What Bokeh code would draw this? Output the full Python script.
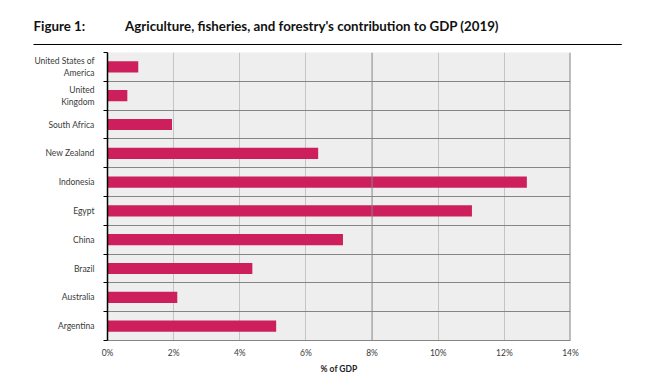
from bokeh.plotting import figure
from bokeh.models import FixedTicker, Span, Range1d, Title
from bokeh.embed import file_html
from bokeh.resources import INLINE

# ---- data (bottom to top) ----
countries = ["Argentina", "Australia", "Brazil", "China", "Egypt", "Indonesia",
             "New Zealand", "South Africa", "United\nKingdom", "United States of\nAmerica"]
gdp_share = [5.1, 2.11, 4.38, 7.12, 11.02, 12.68, 6.37, 1.95, 0.6, 0.93]
x_ticks = [0, 2, 4, 6, 8, 10, 12, 14]
fig_label = "Figure 1:"
title_text = "Agriculture, fisheries, and forestry's contribution to GDP (2019)"
x_title = "% of GDP"

FONT = "Lato"
BAR = "#cd1f5c"
W, H = 646, 388
BL, BR, BT, BB = 107, 76, 52, 48

n = len(countries)
centers = [i + 0.5 for i in range(n)]
p = figure(width=W, height=H, x_range=Range1d(0, 14), y_range=Range1d(0, n),
           toolbar_location=None, output_backend="svg",
           min_border_left=BL, min_border_right=BR, min_border_top=BT, min_border_bottom=BB)
p.background_fill_color = "#eeeeee"
p.outline_line_color = None

p.hbar(y=centers, right=gdp_share, left=0, height=0.39, color=BAR, line_color=None)

# underline (a thin filled title box) and the heading text
HPAD = 294
underline = Title(text="\u00a0", align="left", offset=-74, text_font_size="1px",
                  background_fill_color="black", padding=(HPAD, 0), standoff=15,
                  text_color="black")
heading = Title(text=fig_label + "\u2003\u2003\u2003\u2003" + title_text, align="left", offset=-74,
                text_font=FONT, text_font_size="13.3px", text_font_style="bold",
                text_color="#111111", standoff=2)
p.title.visible = False
p.add_layout(underline, "above")
p.add_layout(heading, "above")

# grids
p.xgrid.ticker = FixedTicker(ticks=[v for v in x_ticks if v not in (0, 8, 14)])
p.xgrid.grid_line_color = "#c4c4c4"
p.ygrid.ticker = FixedTicker(ticks=list(range(n)))
p.ygrid.grid_line_color = "#858585"
p.add_layout(Span(location=8, dimension="height", line_color="#858585", line_width=1))
p.add_layout(Span(location=14, dimension="height", line_color="#858585", line_width=2))

# y axis
ya = p.yaxis[0]
ya.ticker = FixedTicker(ticks=centers, minor_ticks=list(range(n + 1)))
ya.major_label_overrides = {c: lab for c, lab in zip(centers, countries)}
ya.major_tick_line_color = None
ya.major_tick_out = 0
ya.major_tick_in = 0
ya.minor_tick_line_color = "black"
ya.minor_tick_out = 4
ya.minor_tick_in = 0
ya.axis_line_color = "black"
ya.axis_line_width = 1.5
ya.major_label_standoff = 9
ya.major_label_text_font = FONT
ya.major_label_text_font_size = "8.5px"
ya.major_label_text_color = "#3a3a3a"

# x axis
xa = p.xaxis[0]
xa.ticker = FixedTicker(ticks=x_ticks)
xa.major_label_overrides = {v: f"{v}%" for v in x_ticks}
xa.major_tick_line_color = None
xa.minor_tick_line_color = None
xa.major_tick_out = 0
xa.major_tick_in = 0
xa.axis_line_color = "#858585"
xa.major_label_standoff = 7
xa.major_label_text_font = FONT
xa.major_label_text_font_size = "8.5px"
xa.major_label_text_color = "#3a3a3a"
xa.axis_label = x_title
xa.axis_label_text_font = FONT
xa.axis_label_text_font_size = "8.5px"
xa.axis_label_text_font_style = "bold"
xa.axis_label_text_color = "#222222"
xa.axis_label_standoff = 3

open("out.html", "w").write(file_html(p, INLINE))
